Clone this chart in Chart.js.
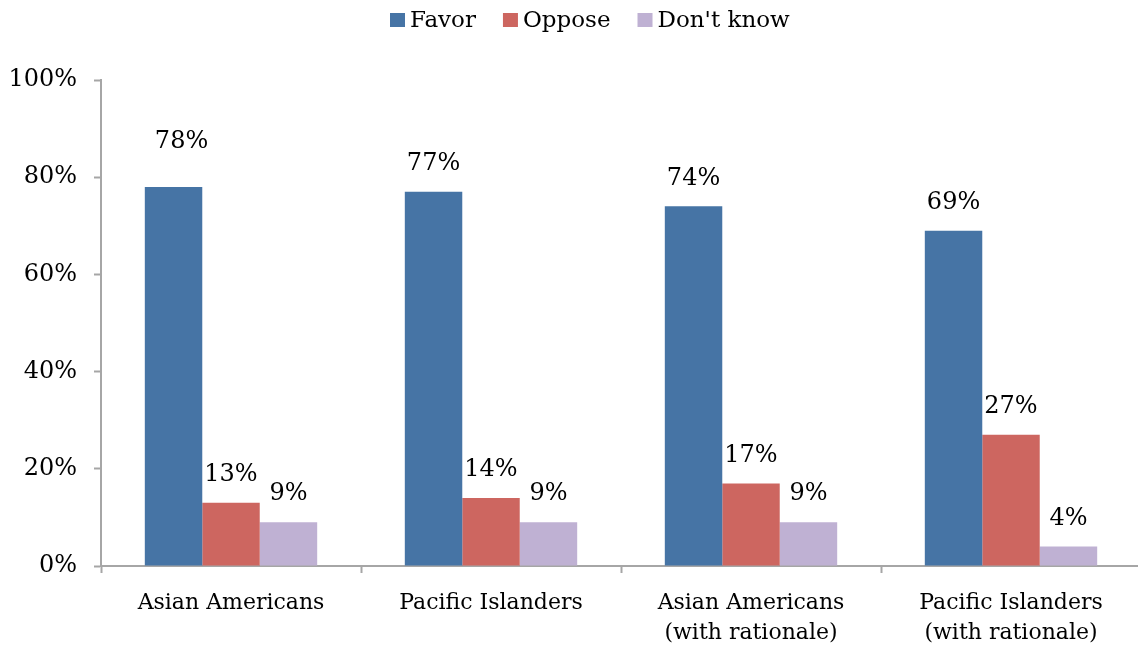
<!DOCTYPE html>
<html>
<head>
<meta charset="utf-8">
<title>Favor / Oppose by group</title>
<script src="https://cdn.jsdelivr.net/npm/chart.js@4/dist/chart.umd.min.js"></script>
<style>
  html, body { margin: 0; padding: 0; background: #fff; }
  /* the plot runs a few pixels past the right edge, so clip it */
  #clip { width: 1138px; height: 649px; overflow: hidden; }
  #wrap { position: relative; width: 1142px; height: 649px; }
</style>
</head>
<body>
<div id="clip"><div id="wrap"><canvas id="surveyChart"></canvas></div></div>
<script>
  // ── Data ───────────────────────────────────────────────────
  const categories = [
    'Asian Americans',
    'Pacific Islanders',
    ['Asian Americans', '(with rationale)'],
    ['Pacific Islanders', '(with rationale)']
  ];
  const seriesNames = ['Favor', 'Oppose', "Don't know"];
  const favor    = [78, 77, 74, 69];
  const oppose   = [13, 14, 17, 27];
  const dontKnow = [9, 9, 9, 4];
  const yTicks   = [0, 20, 40, 60, 80, 100];

  // ── Styling ────────────────────────────────────────────────
  const SERIES_COLORS = ['#4674A5', '#CD6660', '#BFB1D3'];
  const AXIS_COLOR = '#A6A6A6';
  const FONT_FAMILY = "'DejaVu Serif', 'Liberation Serif', serif";
  const baseFont = { family: FONT_FAMILY, size: 24 };

  /**
   * Percent labels above each bar. The first Favor label sits a bit
   * higher and to the right, so it gets its own nudge.
   */
  const barValueLabels = {
    id: 'barValueLabels',
    afterDatasetsDraw: function (chart) {
      var ctx = chart.ctx;
      var nudge = { '0-0': [8, -17] };
      ctx.save();
      ctx.font = '24px ' + FONT_FAMILY;
      ctx.fillStyle = '#000';
      ctx.textAlign = 'center';
      ctx.textBaseline = 'middle';
      chart.data.datasets.forEach(function (ds, di) {
        chart.getDatasetMeta(di).data.forEach(function (bar, i) {
          var n = nudge[di + '-' + i] || [0, 0];
          ctx.fillText(ds.data[i] + '%', bar.x + n[0], bar.y - 28 + n[1]);
        });
      });
      ctx.restore();
    }
  };

  // Legend row drawn across the top: square swatch, then the name.
  const topLegend = {
    id: 'topLegend',
    afterDraw: function (chart) {
      var ctx = chart.ctx;
      var x = 390, y = 20;
      ctx.save();
      ctx.font = '23px ' + FONT_FAMILY;
      ctx.textBaseline = 'middle';
      ctx.textAlign = 'left';
      chart.data.datasets.forEach(function (ds) {
        ctx.fillStyle = ds.backgroundColor;
        ctx.fillRect(x, y - 7, 15, 14);
        ctx.fillStyle = '#000';
        ctx.fillText(ds.label, x + 20, y + 1);
        x += 20 + ctx.measureText(ds.label).width + 27;
      });
      ctx.restore();
    }
  };

  const ctx = document.getElementById('surveyChart').getContext('2d');
  new Chart(ctx, {
    type: 'bar',
    data: {
      labels: categories,
      datasets: [favor, oppose, dontKnow].map(function (values, k) {
        return {
          label: seriesNames[k],
          data: values,
          backgroundColor: SERIES_COLORS[k],
          borderWidth: 0,
          categoryPercentage: 0.663,
          barPercentage: 1.0
        };
      })
    },
    options: {
      responsive: true,
      maintainAspectRatio: false,
      animation: false,
      layout: { padding: { top: 80, right: 1, bottom: 0, left: 0 } },
      plugins: {
        legend: { display: false },
        tooltip: { enabled: false }
      },
      scales: {
        x: {
          grid: {
            display: true,
            drawOnChartArea: false,
            drawTicks: true,
            tickLength: 7,
            tickWidth: 2,
            tickColor: AXIS_COLOR,
            offset: true
          },
          border: { display: true, color: AXIS_COLOR, width: 2 },
          ticks: {
            font: { family: FONT_FAMILY, size: 22, lineHeight: 1.36 },
            color: '#000',
            padding: 15,
            maxRotation: 0,
            autoSkip: false
          },
          afterFit: function (scale) { scale.height = 83; }
        },
        y: {
          min: 0,
          max: 100,
          afterBuildTicks: function (scale) {
            scale.ticks = yTicks.map(function (v) { return { value: v }; });
          },
          grid: {
            display: true,
            drawOnChartArea: false,
            drawTicks: true,
            tickLength: 7,
            tickWidth: 2,
            tickColor: AXIS_COLOR
          },
          border: { display: true, color: AXIS_COLOR, width: 2 },
          ticks: {
            font: baseFont,
            color: '#000',
            padding: 17,
            callback: function (v) { return v + '%'; }
          },
          afterFit: function (scale) { scale.width = 101; }
        }
      }
    },
    plugins: [barValueLabels, topLegend]
  });
</script>
</body>
</html>
